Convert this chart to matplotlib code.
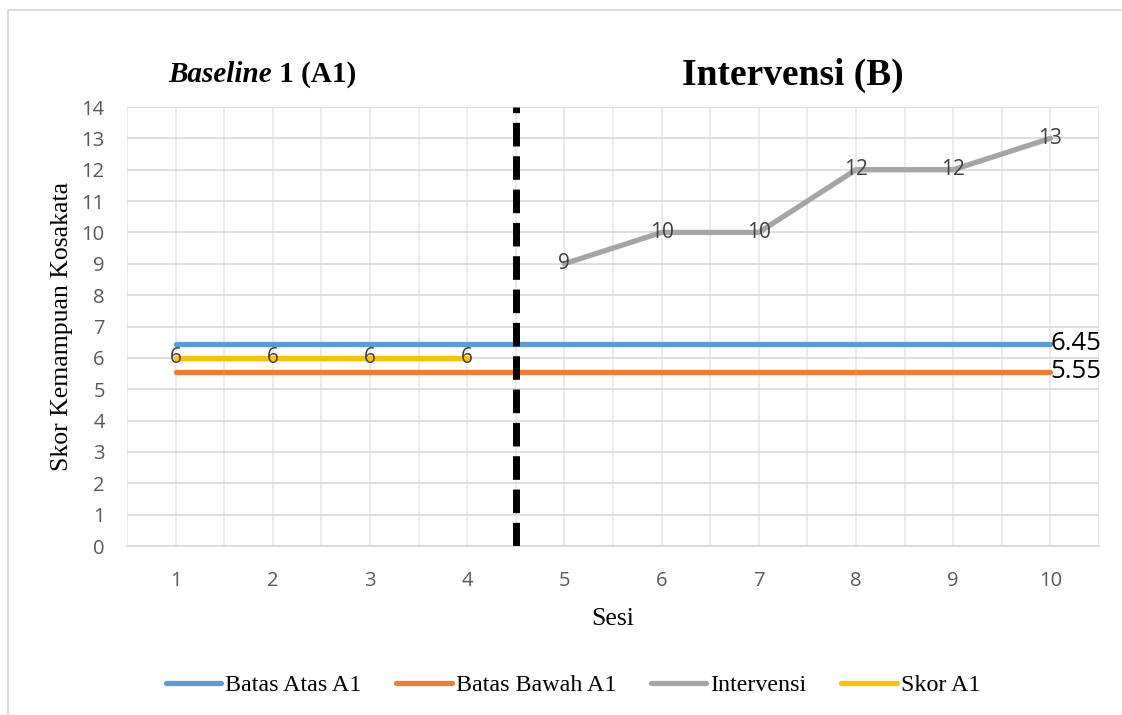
import numpy as np
import matplotlib.pyplot as plt
from matplotlib.lines import Line2D

# session numbers and scores
sesi = [1, 2, 3, 4, 5, 6, 7, 8, 9, 10]
skor_a1 = [6, 6, 6, 6]
intervensi = [9, 10, 10, 12, 12, 13]
batas_atas = 6.45
batas_bawah = 5.55
batas_pisah = 4.5

W, H = 1122, 715
fig = plt.figure(figsize=(W / 100, H / 100), dpi=100)
ax = fig.add_axes([127 / W, 1 - 546 / H, (1099 - 127) / W, (546 - 107) / H])

serif = "Liberation Serif"
sans = "Open Sans"
tick_color = "#595959"
label_color = "#404040"

# chart border (top and left edges only, the rest runs off the canvas)
bx, by = 8 / W, 1 - 10 / H
fig.add_artist(Line2D([bx, bx, 1.0], [0, by, by], transform=fig.transFigure,
                      color="#d9d9d9", lw=1.3))

lw = 3.8
ax.plot(sesi, [batas_atas] * len(sesi), color="#5B9BD5", lw=lw, solid_capstyle="round",
        label="Batas Atas A1", zorder=3)
ax.plot(sesi, [batas_bawah] * len(sesi), color="#ED7D31", lw=lw, solid_capstyle="round",
        label="Batas Bawah A1", zorder=3)
ax.plot(sesi[4:], intervensi, color="#A5A5A5", lw=lw, solid_capstyle="round",
        label="Intervensi", zorder=3)
ax.plot(sesi[:4], skor_a1, color="#FFC000", lw=lw, solid_capstyle="round",
        label="Skor A1", zorder=3)

# phase change line
ax.axvline(batas_pisah, color="black", lw=5, dashes=(3.4, 1.4), zorder=4)

# data labels
for x, y in zip(sesi[:4], skor_a1):
    ax.text(x, y, str(y), ha="center", va="center", fontsize=15, family=sans,
            color=label_color, zorder=5)
for x, y in zip(sesi[4:], intervensi):
    ax.text(x, y, str(y), ha="center", va="center", fontsize=15, family=sans,
            color=label_color, zorder=5)
ax.text(sesi[-1], batas_atas, f"{batas_atas}", ha="left", va="center", fontsize=18.5,
        family=sans, color="black", zorder=5)
ax.text(sesi[-1], batas_bawah, f"{batas_bawah}", ha="left", va="center", fontsize=18.5,
        family=sans, color="black", zorder=5)

ax.set_xlim(0.5, 10.5)
ax.set_ylim(0, 14)
ax.set_yticks(np.arange(0, 15, 1))
ax.set_xticks(sesi)
ax.set_xticks(np.arange(0.5, 10.6, 0.5), minor=True)
ax.tick_params(axis="both", which="both", length=0, labelsize=14.5, colors=tick_color)
ax.tick_params(axis="x", pad=18)
ax.tick_params(axis="y", pad=16)
for lab in ax.get_xticklabels() + ax.get_yticklabels():
    lab.set_family(sans)
ax.grid(True, which="major", axis="y", color="#d9d9d9", lw=1.2)
ax.grid(True, which="minor", axis="x", color="#e8e8e8", lw=1.2)
ax.grid(True, which="major", axis="x", color="#e8e8e8", lw=1.2)
ax.set_axisbelow(True)
for side in ["top", "right", "left"]:
    ax.spines[side].set_visible(False)
ax.spines["bottom"].set_color("#d9d9d9")
ax.spines["bottom"].set_linewidth(1.2)

ax.set_xlabel("Sesi", family=serif, fontsize=18.5, labelpad=12)
ax.set_ylabel("Skor Kemampuan Kosakata", family=serif, fontsize=18.5, labelpad=6)

# phase titles
fig.text(272 / W, 1 - 75 / H, "Baseline", family=serif, fontsize=21, fontweight="bold",
         style="italic", ha="right", va="center")
fig.text(272 / W, 1 - 75 / H, " 1 (A1)", family=serif, fontsize=21, fontweight="bold",
         ha="left", va="center")
fig.text(793 / W, 1 - 75 / H, "Intervensi (B)", family=serif, fontsize=27, fontweight="bold",
         ha="center", va="center")

fig.legend(loc="center", bbox_to_anchor=(573 / W, 1 - 685 / H), ncol=4, frameon=False,
           prop={"family": serif, "size": 17.3}, handlelength=2.3, handletextpad=0.17,
           columnspacing=1.45)

fig.savefig("out.png", dpi=100)
